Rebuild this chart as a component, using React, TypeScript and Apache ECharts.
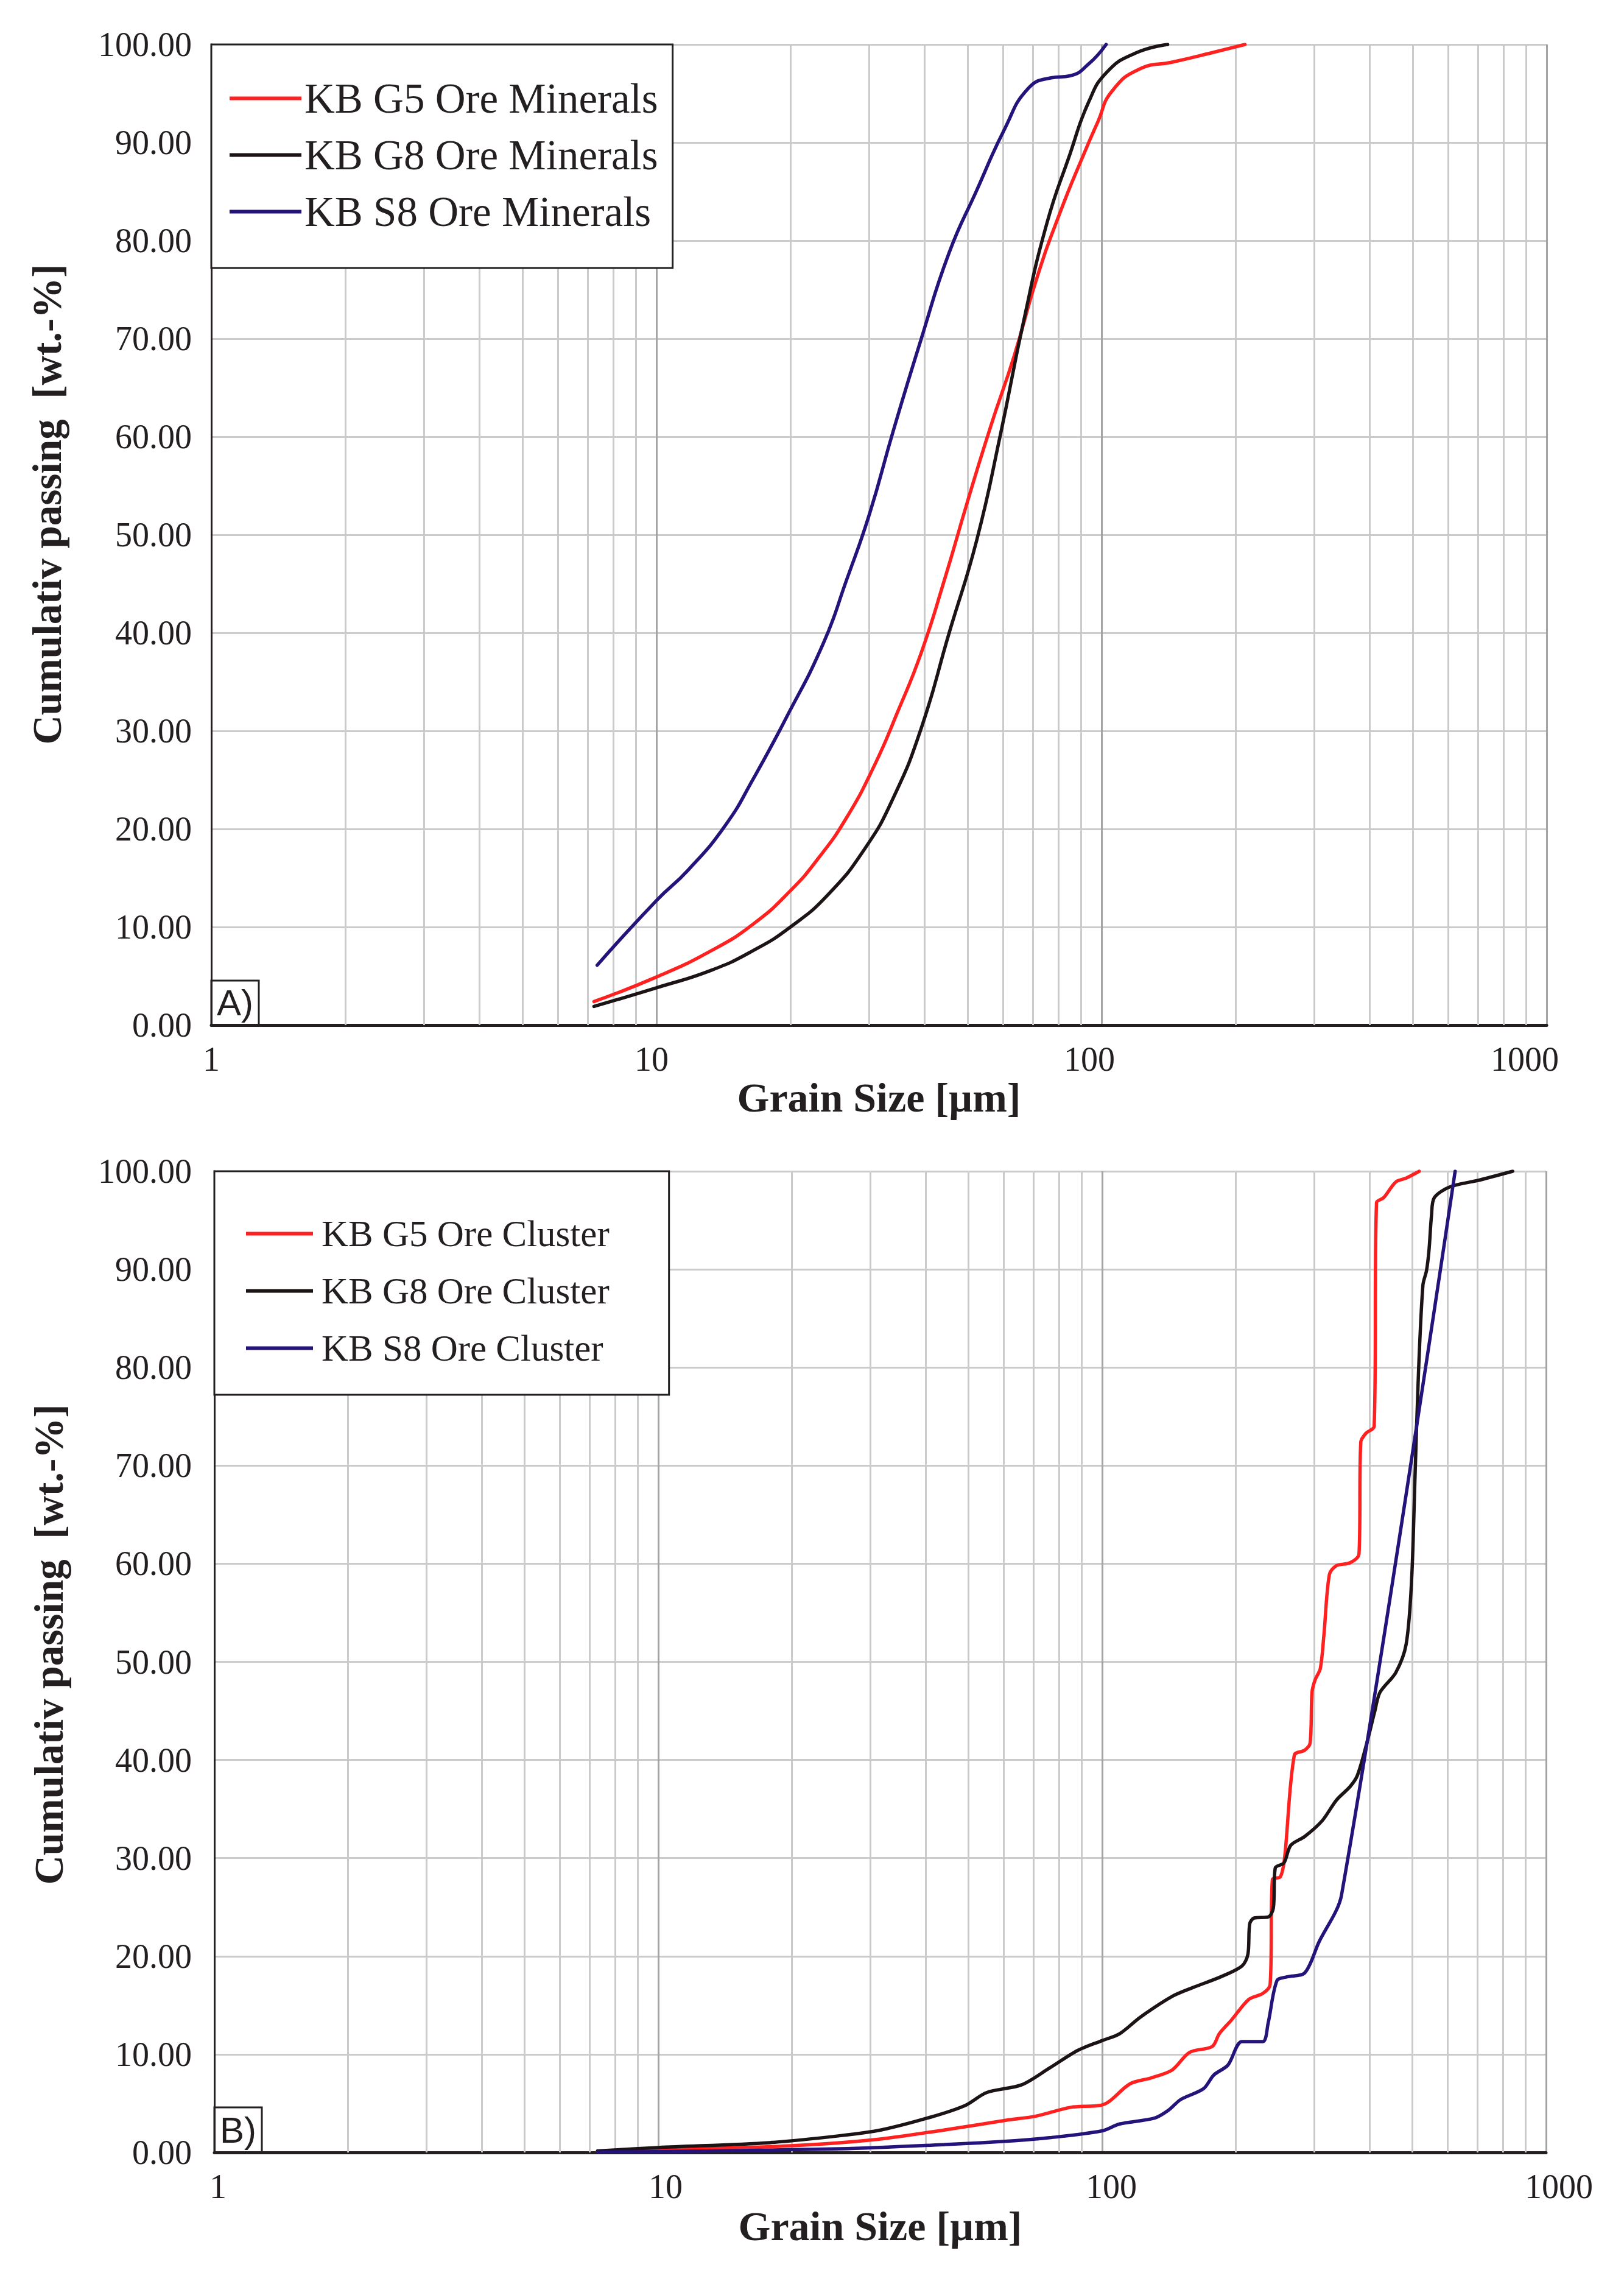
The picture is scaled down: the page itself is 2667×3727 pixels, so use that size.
import React, { useEffect, useRef } from "react";
import * as echarts from "echarts";

// ---------- data (grain size in µm, cumulative passing in wt.-%) ----------
const g5Minerals = [[7.24,2.4],[10,4.9],[13.3,7.6],[16.5,10.3],[20,13.7],[23.1,17.0],[26.7,21.1],[30.9,26.5],[34.8,31.9],[39.3,37.9],[44.3,45.3],[50,53.4],[56.4,61.1],[63.6,68.2],[71.7,76.3],[80.9,83.0],[91.2,88.8],[98.1,92.1],[105.4,95.2],[121.8,97.5],[144.2,98.2],[174.9,99.1],[210,100]];
const g8Minerals = [[7.24,1.9],[10,3.8],[13.3,5.6],[16.5,7.6],[20,10.0],[24.3,13.3],[29.4,18.0],[34,23.1],[39.3,30.2],[45.4,39.9],[52.4,49.4],[59.2,60.1],[66.7,71.6],[75.3,81.7],[84.9,88.8],[93.5,94.1],[102.9,97.2],[118.9,99.1],[140.8,100]];
const s8Minerals = [[7.36,6.1],[10,12.7],[11.78,15.8],[14.3,20.4],[16.5,25.1],[19.5,31.2],[23.7,38.9],[26.7,45.3],[30.1,52.1],[34,60.5],[39.3,69.9],[45.4,78.7],[52.4,85.1],[60.6,91.4],[68.4,95.5],[77.1,96.6],[84.9,96.8],[93.5,98.0],[102.4,100]];

const g5Cluster = [[7.3,0.1],[10,0.27],[19.9,0.68],[30.7,1.3],[44.2,2.3],[61.2,3.3],[70.9,3.7],[85,4.6],[99,4.8],[103.7,5.2],[115.6,7.0],[128.9,7.6],[143.7,8.4],[157.4,10.2],[177,10.8],[183.6,12.1],[195.6,13.5],[214,15.6],[230,16.2],[239,17.1],[241.8,27.8],[252,28.1],[257.6,30.0],[271,40.5],[286,41.0],[294,41.7],[297,46.9],[302,48.2],[310,49.3],[316,52.8],[325,58.9],[337,59.8],[362,60.1],[379,61.0],[382.5,72.4],[393,73.3],[410,74.0],[415,96.8],[430.6,97.3],[458.6,98.9],[484,99.3],[518,100]];
const g8Cluster = [[7.3,0.15],[10,0.5],[17.8,1.0],[25.6,1.7],[31.8,2.3],[41.1,3.6],[49.2,4.8],[54.9,6.1],[65.9,6.9],[76.1,8.6],[88.1,10.4],[100,11.4],[109.5,12.1],[122,13.8],[143.7,15.9],[160,16.8],[185,17.9],[206.5,19.0],[213,20.2],[215,23.3],[220,23.9],[236.6,24.0],[243,24.9],[245.5,29.0],[256.7,29.5],[266,31.3],[286,32.2],[313,33.8],[337,35.9],[362,37.3],[375.6,38.4],[393,41.4],[411,44.9],[422.6,46.9],[458.6,48.9],[484,51.8],[497.7,58.2],[506.8,68.9],[516,79.5],[528,88.4],[538,89.9],[545,92.0],[552,95.5],[560,97.3],[607,98.4],[708,99.1],[841,100]];
const s8Cluster = [[7.3,0.05],[10,0.08],[25.6,0.37],[44.2,0.8],[63.5,1.2],[76.1,1.5],[100,2.2],[109.5,2.9],[131.2,3.5],[141,4.3],[150.4,5.4],[169.2,6.5],[178.5,7.9],[192,8.9],[206.5,11.3],[230,11.3],[236.6,13.2],[247.6,17.5],[261,17.9],[286,18.3],[307.6,21.4],[346,26.2],[624,100]];

const namesA = ["KB G5 Ore Minerals", "KB G8 Ore Minerals", "KB S8 Ore Minerals"];
const namesB = ["KB G5 Ore Cluster", "KB G8 Ore Cluster", "KB S8 Ore Cluster"];
const xTickLabels = ["1", "10", "100", "1000"];
const minorGridX = [2,3,4,5,6,7,8,9,20,30,40,50,60,70,80,90,200,300,400,500,600,700,800,900];
const xMin = 1, xMax = 1000, yMin = 0, yMax = 100, yStep = 10;

const SERIF = '"Liberation Serif", "Times New Roman", serif';
const TXT = "#231f20";
const RED = "#ff2020";
const BLACK = "#1c1414";
const BLUE = "#23137a";

// horizontal nudge of each x tick label (px), as placed in the original figure
const labelShiftA = [0, -8, -20, -36];
const labelShiftB = [6, 12, 15, 21];

function curve(name: string, data: number[][], color: string, idx: number, smooth: number) {
  return {
    name, type: "line", data, xAxisIndex: idx, yAxisIndex: idx,
    showSymbol: false, symbol: "none", smooth, z: 5,
    lineStyle: { color, width: 5.5, cap: "round", join: "round" }, itemStyle: { color }, silent: true,
  };
}

function gridSeries(idx: number) {
  return {
    type: "line", data: [], xAxisIndex: idx, yAxisIndex: idx, z: 1, silent: true,
    markLine: {
      silent: true, symbol: ["none", "none"], label: { show: false }, z: 1,
      lineStyle: { color: "#cbcbcb", width: 3, type: "solid" },
      emphasis: { disabled: true },
      data: minorGridX.map((v) => ({ xAxis: v })),
    },
  };
}

function xAxis(idx: number, nameGap: number, shifts: number[]) {
  const rich: Record<string, any> = {};
  shifts.forEach((s, i) => {
    rich["s" + i] = {
      fontFamily: SERIF, fontSize: 56, color: TXT,
      padding: s < 0 ? [0, -2 * s, 0, 0] : [0, 0, 0, 2 * s],
    };
  });
  return {
    type: "log", logBase: 10, gridIndex: idx, min: xMin, max: xMax,
    name: "Grain Size [µm]", nameLocation: "middle", nameGap,
    nameTextStyle: { fontFamily: SERIF, fontWeight: "bold", fontSize: 68, color: TXT },
    axisLine: { show: true, onZero: false, lineStyle: { color: TXT, width: 5 } },
    axisTick: { show: false },
    axisLabel: {
      fontFamily: SERIF, fontSize: 56, color: TXT, margin: 28, rich,
      formatter: (v: number) => {
        const t = String(Math.round(v));
        const i = xTickLabels.indexOf(t);
        return i >= 0 ? `{s${i}|${t}}` : t;
      },
    },
    splitLine: { show: true, lineStyle: { color: "#a4a4a4", width: 3 } },
  };
}

function yAxis(idx: number, margin: number) {
  return {
    type: "value", gridIndex: idx, min: yMin, max: yMax, interval: yStep,
    axisLine: { show: true, onZero: false, lineStyle: { color: TXT, width: 3 } },
    axisTick: { show: false },
    axisLabel: { fontFamily: SERIF, fontSize: 56, color: TXT, margin, formatter: (v: number) => v.toFixed(2) },
    splitLine: { show: true, lineStyle: { color: "#cbcbcb", width: 3 } },
  };
}

function legend(names: string[], left: number, top: number, fontSize: number, itemWidth: number, itemGap: number, padding: number[], textPad: number) {
  return {
    data: names, orient: "vertical", left, top, padding, itemGap, itemWidth, itemHeight: 6,
    icon: "rect", backgroundColor: "#ffffff", borderColor: TXT, borderWidth: 3, z: 10,
    selectedMode: false,
    textStyle: { fontFamily: SERIF, fontSize, color: TXT, padding: [0, 0, 0, textPad] },
  };
}

function panelLabel(text: string, x: number, y: number, w: number, h: number) {
  return {
    type: "group", z: 20,
    children: [
      { type: "rect", shape: { x, y, width: w, height: h }, style: { fill: "#ffffff", stroke: TXT, lineWidth: 3 } },
      {
        type: "text", x: x + w / 2, y: y + h / 2,
        style: { text, fill: TXT, font: '60px "Liberation Sans Narrow", "Liberation Sans", Arial, sans-serif', align: "center", verticalAlign: "middle", textAlign: "center", textVerticalAlign: "middle" },
      },
    ],
  };
}

function yTitle(x: number, y: number) {
  return {
    type: "text", x, y, rotation: Math.PI / 2, z: 20,
    style: { text: "Cumulativ passing  [wt.-%]", fill: TXT, font: 'bold 67px "Liberation Serif", serif', align: "center", verticalAlign: "middle", textAlign: "center", textVerticalAlign: "middle" },
  };
}

export default function App() {
  const ref = useRef<HTMLDivElement>(null);
  useEffect(() => {
    if (!ref.current) return;
    const chart = echarts.init(ref.current, undefined, { renderer: "svg" });
    chart.setOption({
      animation: false,
      backgroundColor: "#ffffff",
      grid: [
        { left: 347, top: 73, width: 2193, height: 1610 },
        { left: 352, top: 1923, width: 2187, height: 1611 },
      ],
      xAxis: [xAxis(0, 68, labelShiftA), xAxis(1, 87, labelShiftB)],
      yAxis: [yAxis(0, 32), yAxis(1, 37)],
      legend: [
        legend(namesA, 347, 73, 69, 118, 24, [54, 24, 58, 30], 0),
        legend(namesB, 352, 1923, 61, 110, 33, [72, 98, 46, 52], 9),
      ],
      series: [
        gridSeries(0),
        gridSeries(1),
        curve(namesA[0], g5Minerals, RED, 0, 0.5),
        curve(namesA[1], g8Minerals, BLACK, 0, 0.5),
        curve(namesA[2], s8Minerals, BLUE, 0, 0.5),
        curve(namesB[0], g5Cluster, RED, 1, 0.3),
        curve(namesB[1], g8Cluster, BLACK, 1, 0.3),
        curve(namesB[2], s8Cluster, BLUE, 1, 0.3),
      ],
      graphic: [
        panelLabel("A)", 347, 1610, 78, 73),
        panelLabel("B)", 352, 3460, 78, 74),
        yTitle(77, 828),
        yTitle(80, 2700),
      ],
    });
    return () => chart.dispose();
  }, []);
  return <div ref={ref} style={{ position: "absolute", left: 0, top: 0, width: 2667, height: 3727, background: "#fff" }} />;
}
